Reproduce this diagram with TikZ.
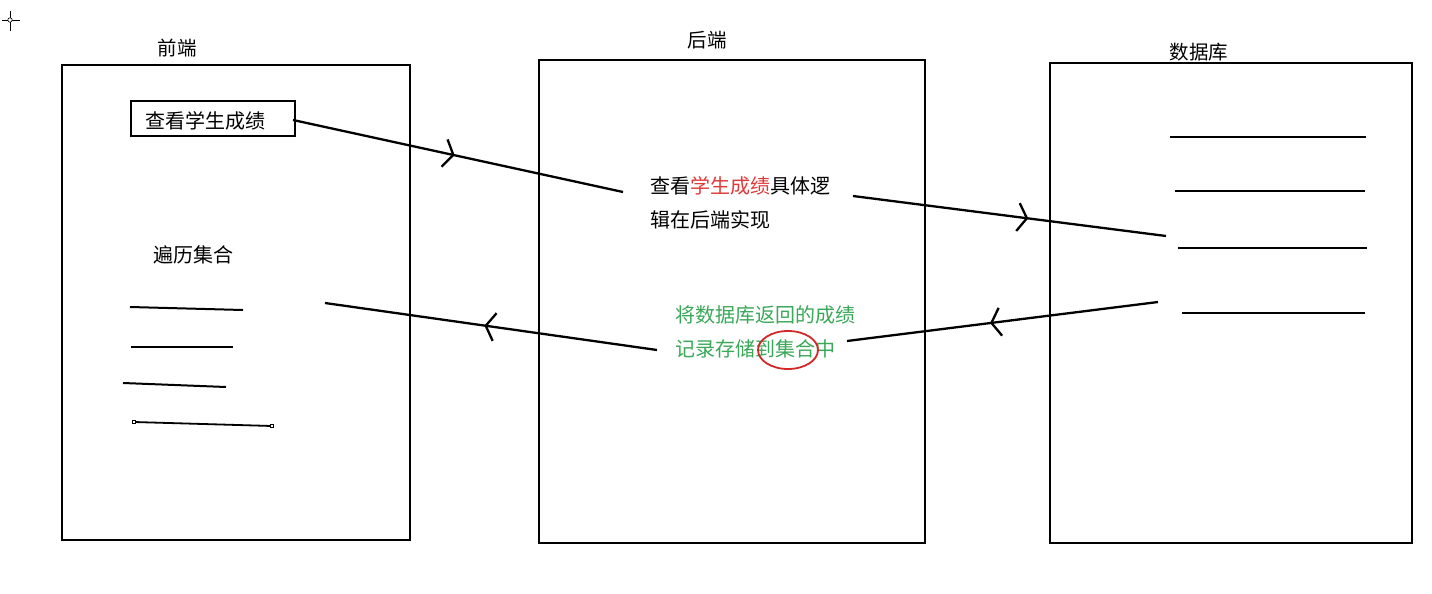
\documentclass[tikz,border=0pt]{standalone}
\usepackage{fontspec}
\setmainfont{Noto Sans CJK SC}
\usetikzlibrary{arrows.meta,decorations.markings,calc}
\definecolor{hlred}{RGB}{222,58,58}
\definecolor{hlgreen}{RGB}{58,168,88}
\definecolor{circred}{RGB}{210,40,40}
\tikzset{
  panel/.style={draw=black,line width=2pt},
  lbl/.style={font=\fontsize{19.5}{20}\selectfont,inner sep=0pt},
  txt/.style={font=\fontsize{20}{34.5}\selectfont,inner sep=0pt,align=left},
  rowline/.style={line width=2pt},
  flow/.style={line width=2.3pt,postaction={decorate},
    decoration={markings,mark=at position #1 with {\arrow[line width=2.3pt]{Straight Barb[length=9pt,width=28pt]}}}},
}
\begin{document}
\begin{tikzpicture}[x=1pt,y=-1pt]
\useasboundingbox (0,0) rectangle (1432,594);
\fill[white] (0,0) rectangle (1432,594);
% cursor crosshair
\draw[line width=0.8pt] (2,20) -- (20,20) (10,11) -- (10,31);
\draw[line width=0.6pt,fill=white] (10,20) circle (2.2pt);
% panels
\draw[panel] (62,65) rectangle (410,540);
\draw[panel] (539,60) rectangle (925,543);
\draw[panel] (1050,63) rectangle (1412,543);
\node[lbl] (lf) at (177,48) {前端};
\node[lbl] (lb) at (707,40) {后端};
\node[lbl] (ld) at (1199,52) {数据库};
% frontend
\node[draw,line width=2.2pt,minimum width=164pt,minimum height=35pt,inner sep=0pt] (qbox) at (213,118.5) {};
\node[txt] (q) at (205,121) {查看学生成绩};
\node[txt] (trav) at (193,255) {遍历集合};
\coordinate (f1a) at (130,307); \coordinate (f1b) at (243,310);
\coordinate (f2a) at (131,347); \coordinate (f2b) at (233,347);
\coordinate (f3a) at (123,383); \coordinate (f3b) at (226,387);
\coordinate (f4a) at (134,422); \coordinate (f4b) at (272,426);
\draw[rowline] (f1a) -- (f1b);
\draw[rowline] (f2a) -- (f2b);
\draw[rowline] (f3a) -- (f3b);
\draw[line width=1.8pt] (f4a) -- (f4b);
\draw[line width=0.5pt,fill=white] ($(f4a)+(-1.5,-1.5)$) rectangle ($(f4a)+(1.5,1.5)$);
\draw[line width=0.5pt,fill=white] ($(f4b)+(-1.5,-1.5)$) rectangle ($(f4b)+(1.5,1.5)$);
% backend
\node[txt,anchor=north west] (bt) at (650,176) {查看\textcolor{hlred}{学生成绩}具体逻\\辑在后端实现};
\node[txt,anchor=north west,text=hlgreen] (gt) at (675,305) {将数据库返回的成绩\\记录存储到集合中};
\draw[circred,line width=1.8pt] (788,350) ellipse (30pt and 19pt);
% database lines
\coordinate (d1a) at (1170,137); \coordinate (d1b) at (1366,137);
\coordinate (d2a) at (1175,191); \coordinate (d2b) at (1365,191);
\coordinate (d3a) at (1178,248); \coordinate (d3b) at (1367,248);
\coordinate (d4a) at (1182,313); \coordinate (d4b) at (1365,313);
\draw[rowline] (d1a) -- (d1b);
\draw[rowline] (d2a) -- (d2b);
\draw[rowline] (d3a) -- (d3b);
\draw[rowline] (d4a) -- (d4b);
% flows
\coordinate (a1s) at (293,120); \coordinate (a1e) at (623,192);
\coordinate (a2s) at (853,196); \coordinate (a2e) at (1166,236);
\coordinate (a3s) at (1158,302); \coordinate (a3e) at (847,341);
\coordinate (a4s) at (657,350); \coordinate (a4e) at (325,303);
\draw[flow=0.49] (a1s) -- (a1e);
\draw[flow=0.56] (a2s) -- (a2e);
\draw[flow=0.54] (a3s) -- (a3e);
\draw[flow=0.52] (a4s) -- (a4e);
\end{tikzpicture}
\end{document}
